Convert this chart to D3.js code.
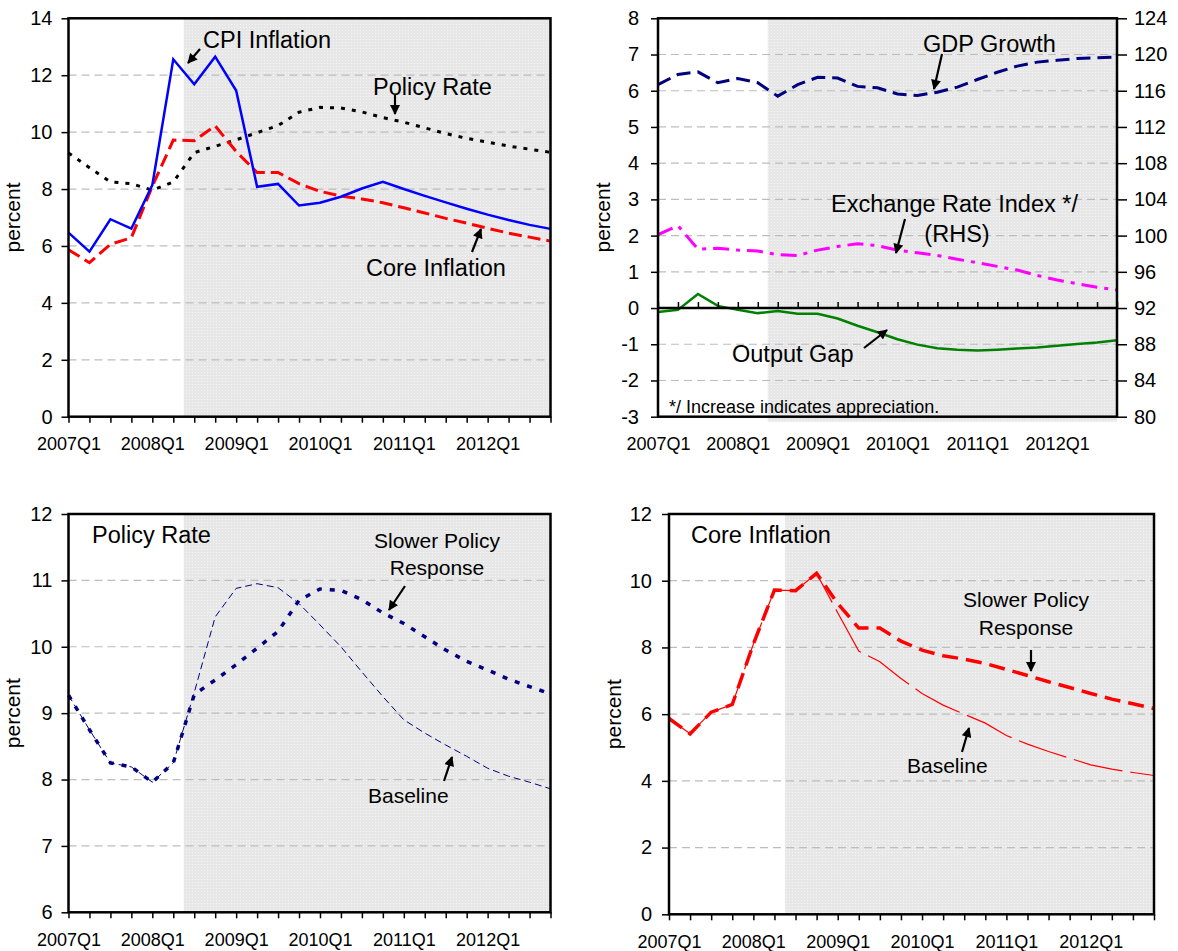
<!DOCTYPE html>
<html>
<head>
<meta charset="utf-8">
<script src="https://cdn.jsdelivr.net/npm/d3@7"></script>
<style>
  body { margin: 0; background: #fff; }
  svg { display: block; }
  text { font-family: "Liberation Sans", Arial, sans-serif; fill: #000; }
</style>
</head>
<body>
<svg id="chart" width="1178" height="951"></svg>
<script>
// quarters on the x axis
var quarters = [
  "2007Q1", "2007Q2", "2007Q3", "2007Q4", "2008Q1", "2008Q2", "2008Q3", "2008Q4",
  "2009Q1", "2009Q2", "2009Q3", "2009Q4", "2010Q1", "2010Q2", "2010Q3", "2010Q4",
  "2011Q1", "2011Q2", "2011Q3", "2011Q4", "2012Q1", "2012Q2", "2012Q3", "2012Q4"
];

// top left
var cpiInflation = [6.47, 5.80, 6.94, 6.61, 8.14, 12.56, 11.68, 12.65, 11.46, 8.08, 8.18, 7.42,
  7.52, 7.73, 8.02, 8.25, 8.00, 7.76, 7.53, 7.31, 7.10, 6.91, 6.74, 6.60];
var coreInflation = [5.87, 5.41, 6.06, 6.29, 8.10, 9.72, 9.70, 10.22, 9.32, 8.58, 8.58, 8.19,
  7.92, 7.75, 7.65, 7.52, 7.34, 7.16, 6.97, 6.80, 6.62, 6.45, 6.31, 6.17];
var policyRate = [9.27, 8.75, 8.25, 8.19, 7.96, 8.25, 9.28, 9.50, 9.73, 9.98, 10.23, 10.70,
  10.87, 10.85, 10.71, 10.51, 10.35, 10.15, 9.95, 9.78, 9.65, 9.51, 9.40, 9.29];

// top right
var gdpGrowth = [6.17, 6.45, 6.52, 6.22, 6.34, 6.22, 5.85, 6.17, 6.37, 6.35, 6.12, 6.08,
  5.91, 5.87, 5.96, 6.10, 6.31, 6.51, 6.68, 6.79, 6.84, 6.89, 6.91, 6.93];
var exchangeRate = [100.1, 101.1, 98.5, 98.6, 98.4, 98.3, 97.9, 97.8, 98.4, 98.8, 99.1, 98.9,
  98.4, 98.1, 97.8, 97.4, 97.0, 96.6, 96.2, 95.6, 95.1, 94.7, 94.3, 94.0];
var outputGap = [-0.11, -0.05, 0.39, 0.06, -0.05, -0.14, -0.08, -0.16, -0.16, -0.29, -0.49, -0.67,
  -0.86, -1.01, -1.11, -1.15, -1.17, -1.15, -1.12, -1.09, -1.04, -0.99, -0.95, -0.89];

// bottom panels: baseline vs slower policy response
var policyBaseline = [9.27, 8.75, 8.25, 8.19, 7.96, 8.25, 9.31, 10.45, 10.88, 10.95, 10.89, 10.65,
  10.33, 10.00, 9.62, 9.25, 8.90, 8.70, 8.52, 8.35, 8.17, 8.05, 7.96, 7.86];
var policySlower = policyRate;
var coreBaseline = [5.87, 5.41, 6.06, 6.29, 8.10, 9.72, 9.70, 10.22, 9.04, 7.89, 7.57, 7.07,
  6.62, 6.27, 6.00, 5.73, 5.36, 5.10, 4.88, 4.68, 4.48, 4.35, 4.25, 4.16];
var coreSlower = coreInflation;

var svg = d3.select("#chart");
var defs = svg.append("defs");

// dotted grey shading for the projection period
var pat = defs.append("pattern").attr("id", "shade")
  .attr("width", 3).attr("height", 3).attr("patternUnits", "userSpaceOnUse");
pat.append("rect").attr("width", 3).attr("height", 3).attr("fill", "#e7e7e7");
pat.append("rect").attr("width", 1).attr("height", 1).attr("fill", "#f6f6f6");

defs.append("marker").attr("id", "arrowhead")
  .attr("viewBox", "0 0 10 10").attr("refX", 9).attr("refY", 5)
  .attr("markerUnits", "userSpaceOnUse").attr("markerWidth", 11).attr("markerHeight", 10)
  .attr("orient", "auto")
  .append("path").attr("d", "M0,0L10,5L0,10z").attr("fill", "#000");

function makePanel(box, yDomain, gridVals) {
  var g = svg.append("g");
  var x = d3.scalePoint().domain(quarters).range([box.left, box.right]);
  var y = d3.scaleLinear().domain(yDomain).range([box.bottom, box.top]);
  var sx = (x("2008Q2") + x("2008Q3")) / 2;
  g.append("rect")
    .attr("x", sx).attr("y", box.top)
    .attr("width", box.right - sx).attr("height", box.bottom - box.top + (box.extra || 0))
    .attr("fill", "url(#shade)");
  g.selectAll(".grid").data(gridVals).join("line")
    .attr("class", "grid")
    .attr("x1", box.left).attr("x2", box.right)
    .attr("y1", function (d) { return y(d); }).attr("y2", function (d) { return y(d); })
    .attr("stroke", "#bdbdbd").attr("stroke-width", 1.2).attr("stroke-dasharray", "8,5");
  return {g: g, x: x, y: y, box: box};
}

function addLine(p, data, yScale, color, width, dash) {
  var line = d3.line()
    .x(function (d, i) { return p.x(quarters[i]); })
    .y(function (d) { return yScale(d); });
  p.g.append("path").datum(data)
    .attr("d", line)
    .attr("fill", "none")
    .attr("stroke", color)
    .attr("stroke-width", width)
    .attr("stroke-linejoin", "miter")
    .attr("stroke-dasharray", dash || null);
}

function frame(p) {
  var b = p.box;
  p.g.append("rect")
    .attr("x", b.left).attr("y", b.top)
    .attr("width", b.right - b.left).attr("height", b.bottom - b.top)
    .attr("fill", "none").attr("stroke", "#000").attr("stroke-width", 2.5);
}

function styleAxis(sel, size) {
  sel.select(".domain").remove();
  sel.selectAll(".tick line").attr("stroke", "#000").attr("stroke-width", 1.5);
  sel.selectAll("text").attr("font-family", null).style("font-size", size + "px");
}

// plain hyphen for negatives, as in the original
function plain(d) { return String(d); }

function leftAxis(p, ticks, pad) {
  p.g.append("g")
    .attr("transform", "translate(" + p.box.left + ",0)")
    .call(d3.axisLeft(p.y).tickValues(ticks).tickSize(7).tickPadding(pad).tickFormat(plain))
    .call(styleAxis, 20);
}

function bottomAxis(p, tickSize, pad) {
  p.g.append("g")
    .attr("transform", "translate(0," + p.box.bottom + ")")
    .call(d3.axisBottom(p.x).tickSize(tickSize).tickPadding(pad)
      .tickFormat(function (d) { return d.slice(4) === "Q1" ? d : ""; }))
    .call(styleAxis, 18);
}

function yLabel(p, xPos) {
  p.g.append("text")
    .attr("transform", "translate(" + xPos + "," + ((p.box.top + p.box.bottom) / 2) + ") rotate(-90)")
    .attr("text-anchor", "middle")
    .style("font-size", "21px")
    .text("percent");
}

function label(p, xPos, yPos, str, size, anchor) {
  p.g.append("text")
    .attr("x", xPos).attr("y", yPos)
    .attr("text-anchor", anchor || "start")
    .style("font-size", size + "px")
    .text(str);
}

function arrow(p, x1, y1, x2, y2) {
  p.g.append("line")
    .attr("x1", x1).attr("y1", y1).attr("x2", x2).attr("y2", y2)
    .attr("stroke", "#000").attr("stroke-width", 2.2)
    .attr("marker-end", "url(#arrowhead)");
}

// ---- top left: inflation and policy rate
var p1 = makePanel({left: 68.5, right: 550.5, top: 18.3, bottom: 416.7}, [0, 14], [2, 4, 6, 8, 10, 12]);
addLine(p1, policyRate, p1.y, "#000", 3, "4,7");
addLine(p1, coreInflation, p1.y, "#ff0000", 3, "13,6");
addLine(p1, cpiInflation, p1.y, "#0000ff", 2.5);
frame(p1);
leftAxis(p1, d3.range(0, 15, 2), 9);
bottomAxis(p1, 6, 15);
yLabel(p1, 20);
label(p1, 203, 48, "CPI Inflation", 23.5);
arrow(p1, 200, 49, 188, 63);
label(p1, 373, 95, "Policy Rate", 23.5);
arrow(p1, 395, 95, 395, 114);
label(p1, 366, 276, "Core Inflation", 23.5);
arrow(p1, 472, 252, 481, 229);

// ---- top right: GDP, exchange rate, output gap
var p2 = makePanel({left: 658, right: 1117, top: 18.3, bottom: 416.7, extra: 5}, [-3, 8], [-2, -1, 1, 2, 3, 4, 5, 6, 7]);
var yRight = d3.scaleLinear().domain([80, 124]).range([p2.box.bottom, p2.box.top]);
addLine(p2, outputGap, p2.y, "#008000", 2.5);
addLine(p2, exchangeRate, yRight, "#ff00ff", 3, "16,7,4,7");
addLine(p2, gdpGrowth, p2.y, "#000080", 3, "14,7");
p2.g.append("line")
  .attr("x1", p2.box.left).attr("x2", p2.box.right)
  .attr("y1", p2.y(0)).attr("y2", p2.y(0))
  .attr("stroke", "#000").attr("stroke-width", 2.5);
p2.g.append("g")
  .attr("transform", "translate(0," + p2.y(0) + ")")
  .call(d3.axisTop(p2.x).tickSize(6).tickFormat(""))
  .call(styleAxis, 18);
frame(p2);
leftAxis(p2, d3.range(-3, 9, 1), 12);
p2.g.append("g")
  .attr("transform", "translate(" + p2.box.right + ",0)")
  .call(d3.axisRight(yRight).tickValues(d3.range(80, 125, 4)).tickSize(10).tickPadding(7).tickFormat(plain))
  .call(styleAxis, 20);
bottomAxis(p2, 0, 21);
yLabel(p2, 610);
label(p2, 923, 52, "GDP Growth", 23.5);
arrow(p2, 942, 54, 934, 89);
label(p2, 831, 212, "Exchange Rate Index */", 23.5);
label(p2, 957, 242, "(RHS)", 23.5, "middle");
arrow(p2, 905, 219, 896, 253);
label(p2, 732, 362, "Output Gap", 23.5);
arrow(p2, 864, 348, 887, 330);
label(p2, 669, 413, "*/ Increase indicates appreciation.", 18);

// ---- bottom left: policy rate scenarios
var p3 = makePanel({left: 68.5, right: 550.5, top: 514, bottom: 912.3}, [6, 12], [7, 8, 9, 10, 11]);
addLine(p3, policyBaseline, p3.y, "#000080", 1, "7,4");
addLine(p3, policySlower, p3.y, "#000080", 3.5, "5,8");
frame(p3);
leftAxis(p3, d3.range(6, 13, 1), 9);
bottomAxis(p3, 6, 15);
yLabel(p3, 20);
label(p3, 92, 543, "Policy Rate", 23.5);
label(p3, 437, 548, "Slower Policy", 21, "middle");
label(p3, 437, 575, "Response", 21, "middle");
arrow(p3, 405, 586, 389, 610);
label(p3, 368, 803, "Baseline", 21);
arrow(p3, 444, 781, 452, 757);

// ---- bottom right: core inflation scenarios
var p4 = makePanel({left: 669, right: 1154, top: 514, bottom: 914.3}, [0, 12], [2, 4, 6, 8, 10]);
addLine(p4, coreBaseline, p4.y, "#ff0000", 1.2, "50,8");
addLine(p4, coreSlower, p4.y, "#ff0000", 3.5, "16,8");
frame(p4);
leftAxis(p4, d3.range(0, 13, 2), 10);
bottomAxis(p4, 6, 15);
yLabel(p4, 621);
label(p4, 691, 543, "Core Inflation", 23.5);
label(p4, 1026, 607, "Slower Policy", 21, "middle");
label(p4, 1026, 635, "Response", 21, "middle");
arrow(p4, 1031, 650, 1031, 671);
label(p4, 907, 773, "Baseline", 21);
arrow(p4, 962, 752, 969, 728);
</script>
</body>
</html>
